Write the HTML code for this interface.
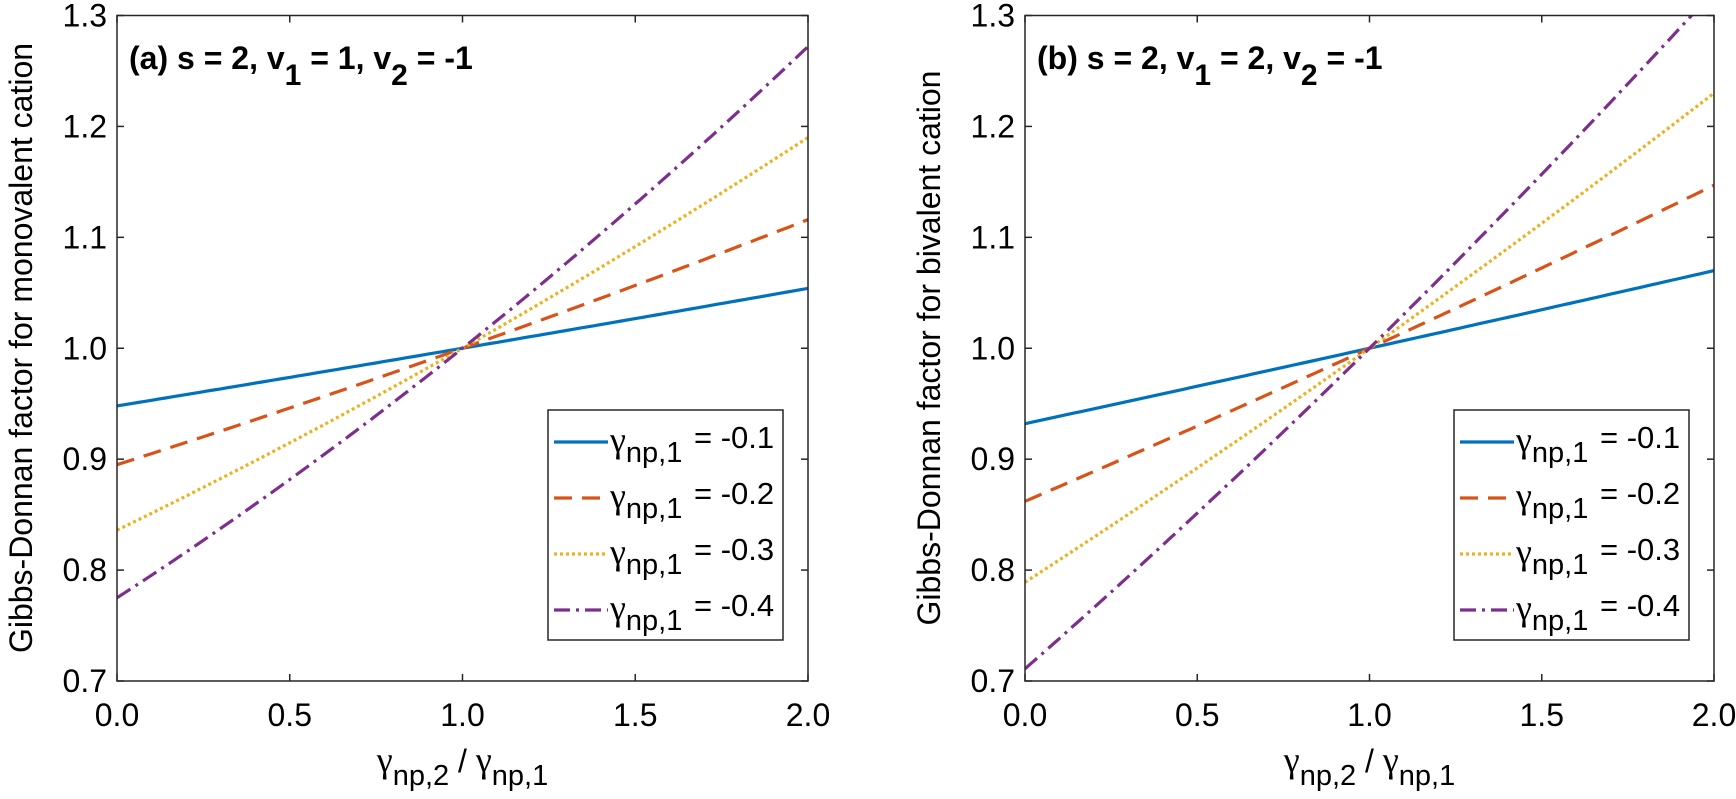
<!DOCTYPE html>
<html><head><meta charset="utf-8"><style>
html,body{margin:0;padding:0;background:#fff;}
svg{display:block;font-family:"Liberation Sans",Arial,sans-serif;}
.g{font-family:"Liberation Serif","DejaVu Serif",serif;}
</style></head><body>
<svg id="s" width="1736" height="799" viewBox="0 0 1736 799" xmlns="http://www.w3.org/2000/svg">
<defs>
<clipPath id="c1"><rect x="117" y="15.5" width="691" height="665.5"/></clipPath>
<clipPath id="c2"><rect x="1025" y="15.5" width="689" height="665.5"/></clipPath>
</defs>
<g id="g"></g>
</svg>
<script>
const g=document.getElementById('g');
let h='';
const cols=['#0072BD','#D95319','#EDB120','#7E2F8E'];
const dash=['', '18,10', '3,3', '16,6,3,6'];
function panel(x0,x1,clip,a,b,title,v1,ylab){
 const y0=15.5,y1=681;
 const X=v=>x0+(x1-x0)*v/2, Y=v=>y1-(y1-y0)*(v-0.7)/0.6;
 for(let k=0;k<4;k++){
  const c1=(b[k]-a[k])/2,c2=(a[k]+b[k])/2-1;
  let d='';
  for(let i=0;i<=100;i++){const x=i/50;const y=1+c1*(x-1)+c2*(x-1)*(x-1);d+=(i?'L':'M')+X(x).toFixed(1)+','+Y(y).toFixed(1);}
  h+=`<path d="${d}" fill="none" stroke="${cols[k]}" stroke-width="3.2" ${dash[k]?`stroke-dasharray="${dash[k]}"`:''} clip-path="url(#${clip})"/>`;
 }
 h+=`<rect x="${x0}" y="${y0}" width="${x1-x0}" height="${y1-y0}" fill="none" stroke="#262626" stroke-width="1.5"/>`;
 for(let i=0;i<=4;i++){const x=X(i*0.5);
  h+=`<line x1="${x}" y1="${y1}" x2="${x}" y2="${y1-7}" stroke="#262626" stroke-width="1.5"/><line x1="${x}" y1="${y0}" x2="${x}" y2="${y0+7}" stroke="#262626" stroke-width="1.5"/>`;
  h+=`<text x="${x}" y="726" font-size="32" text-anchor="middle" fill="#000">${(i*0.5).toFixed(1)}</text>`;}
 for(let i=0;i<=6;i++){const v=0.7+i*0.1,y=Y(v);
  h+=`<line x1="${x0}" y1="${y}" x2="${x0+7}" y2="${y}" stroke="#262626" stroke-width="1.5"/><line x1="${x1}" y1="${y}" x2="${x1-7}" y2="${y}" stroke="#262626" stroke-width="1.5"/>`;
  h+=`<text x="${x0-10}" y="${y+11}" font-size="32" text-anchor="end" fill="#000">${v.toFixed(1)}</text>`;}
 const xc=X(1);
 h+=`<text x="${xc}" y="772" font-size="32" text-anchor="middle" fill="#000"><tspan class="g" font-size="36">γ</tspan><tspan dy="13" font-size="29">np,2</tspan><tspan dy="-13"> / </tspan><tspan class="g" font-size="36">γ</tspan><tspan dy="13" font-size="29">np,1</tspan></text>`;
 h+=`<text transform="translate(${x0-85},348) rotate(-90)" font-size="32" text-anchor="middle" fill="#000">${ylab}</text>`;
 h+=`<text x="${x0+12}" y="69" font-size="32" font-weight="bold" fill="#000">${title} s = 2, v<tspan dy="16" font-size="30">1</tspan><tspan dy="-16"> = ${v1}, v</tspan><tspan dy="16" font-size="30">2</tspan><tspan dy="-16"> = -1</tspan></text>`;
 const lx=x1-260, ly=410;
 h+=`<rect x="${lx}" y="${ly}" width="235" height="230" fill="#fff" stroke="#262626" stroke-width="1.5"/>`;
 for(let k=0;k<4;k++){const y=ly+32+k*56;
  h+=`<line x1="${lx+6}" y1="${y}" x2="${lx+60}" y2="${y}" stroke="${cols[k]}" stroke-width="3.2" ${dash[k]?`stroke-dasharray="${dash[k]}"`:''}/>`;
  h+=`<text x="${lx+62}" y="${y+10}" font-size="31" fill="#000"><tspan class="g" font-size="36">γ</tspan><tspan dy="10" font-size="29">np,1</tspan></text>`;
  h+=`<text x="${lx+146}" y="${y+6}" font-size="31" fill="#000">= -0.${k+1}</text>`;}
}
panel(117,808,'c1',[0.948,0.895,0.836,0.775],[1.054,1.116,1.19,1.272],'(a)',1,'Gibbs-Donnan factor for monovalent cation');
panel(1025,1714,'c2',[0.932,0.862,0.789,0.711],[1.07,1.147,1.23,1.322],'(b)',2,'Gibbs-Donnan factor for bivalent cation');
g.innerHTML=h;
</script>
</body></html>
